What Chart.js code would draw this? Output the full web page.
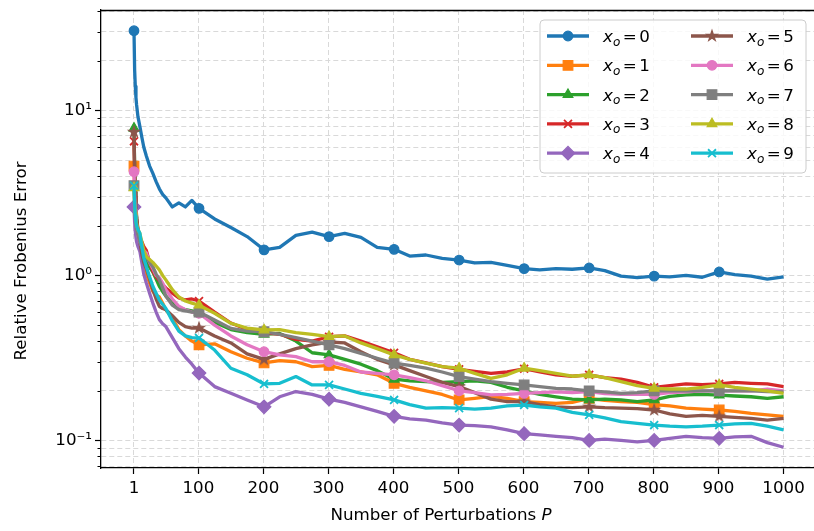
<!DOCTYPE html>
<html><head><meta charset="utf-8">
<script src="https://cdn.jsdelivr.net/npm/chart.js@4.4.1/dist/chart.umd.min.js"></script>
<style>html,body{margin:0;padding:0;background:#fff;}#wrap{width:814px;height:531px;}</style>
</head><body><div id="wrap"><canvas id="c" width="814" height="531"></canvas></div>
<script>
// ---------------- data ----------------
const perturbations = [1,2,3,4,5,7,10,13,16,20,25,30,35,40,45,50,60,70,80,90,
  101,125,150,175,201,225,250,275,301,325,350,375,401,425,450,475,501,525,550,575,
  601,625,650,675,701,725,750,775,801,825,850,875,901,925,950,975,1000];

const err_x0 = [30.4,17.5,14.0,12.0,10.8,9.2,8.0,6.9,6.0,5.3,4.6,4.15,3.7,3.35,3.1,2.95,2.6,2.75,2.6,2.85,
  2.55,2.2,1.95,1.72,1.43,1.48,1.75,1.83,1.72,1.80,1.70,1.48,1.44,1.31,1.33,1.27,1.24,1.19,1.20,1.15,
  1.10,1.08,1.10,1.09,1.11,1.07,0.99,0.97,0.99,0.98,1.0,0.975,1.05,1.01,0.99,0.95,0.98];
const err_x1 = [4.6,3.2,2.6,2.2,2.0,1.7,1.5,1.3,1.15,1.02,0.9,0.8,0.76,0.74,0.68,0.62,0.55,0.47,0.43,0.40,
  0.38,0.385,0.345,0.315,0.295,0.305,0.30,0.28,0.285,0.27,0.26,0.25,0.222,0.21,0.20,0.19,0.176,0.18,0.185,0.18,
  0.172,0.17,0.168,0.17,0.18,0.175,0.172,0.17,0.165,0.162,0.157,0.155,0.153,0.15,0.146,0.143,0.14];
const err_x2 = [7.8,4.5,3.2,2.6,2.2,1.85,1.6,1.42,1.3,1.2,1.12,1.05,0.95,0.86,0.8,0.75,0.68,0.64,0.62,0.61,
  0.60,0.52,0.47,0.45,0.44,0.445,0.40,0.34,0.33,0.31,0.29,0.265,0.235,0.23,0.227,0.225,0.227,0.23,0.225,0.21,
  0.20,0.19,0.184,0.178,0.176,0.178,0.176,0.172,0.176,0.185,0.189,0.19,0.188,0.186,0.184,0.18,0.184];
const err_x3 = [6.5,4.0,3.0,2.5,2.2,1.9,1.7,1.6,1.5,1.42,1.2,1.06,0.98,0.93,0.88,0.84,0.78,0.73,0.71,0.72,
  0.70,0.60,0.515,0.47,0.45,0.44,0.41,0.40,0.425,0.43,0.40,0.37,0.34,0.31,0.295,0.28,0.27,0.262,0.255,0.26,
  0.272,0.26,0.25,0.245,0.25,0.24,0.235,0.225,0.21,0.215,0.22,0.218,0.22,0.225,0.222,0.22,0.212];
const err_x4 = [2.6,2.1,1.85,1.7,1.6,1.5,1.4,1.2,1.02,0.9,0.78,0.68,0.6,0.54,0.51,0.49,0.42,0.36,0.32,0.29,
  0.256,0.212,0.193,0.176,0.16,0.184,0.198,0.19,0.178,0.17,0.16,0.15,0.14,0.135,0.133,0.128,0.124,0.123,0.121,0.116,
  0.11,0.108,0.106,0.104,0.10,0.102,0.10,0.098,0.10,0.103,0.106,0.104,0.103,0.105,0.106,0.097,0.091];
const err_x5 = [7.4,4.5,3.2,2.6,2.3,1.9,1.6,1.35,1.2,1.1,0.95,0.82,0.72,0.65,0.63,0.62,0.57,0.52,0.49,0.48,
  0.48,0.43,0.39,0.335,0.31,0.335,0.36,0.38,0.395,0.39,0.345,0.31,0.287,0.265,0.244,0.225,0.212,0.195,0.178,0.172,
  0.172,0.165,0.16,0.158,0.16,0.158,0.157,0.156,0.153,0.145,0.14,0.142,0.14,0.138,0.136,0.133,0.136];
const err_x6 = [4.25,3.0,2.5,2.2,2.0,1.75,1.6,1.5,1.42,1.37,1.2,1.1,1.0,0.97,0.9,0.82,0.72,0.65,0.62,0.6,
  0.59,0.50,0.43,0.38,0.345,0.33,0.322,0.30,0.30,0.285,0.26,0.255,0.25,0.24,0.23,0.215,0.20,0.195,0.189,0.19,
  0.193,0.195,0.197,0.195,0.198,0.192,0.19,0.19,0.19,0.195,0.197,0.2,0.2,0.2,0.2,0.205,0.2];
const err_x7 = [3.5,2.6,2.2,2.0,1.9,1.75,1.6,1.48,1.38,1.3,1.2,1.13,1.02,0.94,0.84,0.75,0.66,0.62,0.61,0.6,
  0.6,0.537,0.478,0.46,0.456,0.44,0.42,0.40,0.38,0.36,0.337,0.315,0.294,0.285,0.274,0.26,0.244,0.235,0.227,0.222,
  0.217,0.212,0.207,0.205,0.20,0.197,0.193,0.195,0.20,0.2,0.2,0.2,0.2,0.2,0.2,0.198,0.197];
const err_x8 = [3.4,2.7,2.4,2.2,2.05,1.9,1.8,1.6,1.42,1.3,1.25,1.2,1.14,1.08,1.0,0.94,0.82,0.74,0.7,0.68,
  0.66,0.59,0.513,0.48,0.467,0.47,0.45,0.44,0.426,0.43,0.39,0.36,0.33,0.31,0.294,0.28,0.274,0.255,0.238,0.25,
  0.274,0.265,0.255,0.245,0.25,0.24,0.227,0.215,0.207,0.205,0.205,0.21,0.217,0.21,0.205,0.2,0.193];
const err_x9 = [3.5,2.7,2.3,2.1,2.0,1.9,1.8,1.5,1.28,1.13,0.98,0.86,0.78,0.71,0.67,0.63,0.53,0.46,0.43,0.42,
  0.418,0.353,0.274,0.25,0.22,0.222,0.244,0.217,0.217,0.205,0.193,0.185,0.176,0.165,0.157,0.158,0.157,0.155,0.157,0.162,
  0.164,0.16,0.157,0.148,0.143,0.137,0.13,0.127,0.124,0.122,0.121,0.122,0.124,0.126,0.127,0.122,0.116];

const seriesNames = ['0','1','2','3','4','5','6','7','8','9'];
const markerAt = [1,101,201,301,401,501,601,701,801,901];
const xTickValues = [1,100,200,300,400,500,600,700,800,900,1000];
const yTickValues = [0.07,0.08,0.09,0.1,0.2,0.3,0.4,0.5,0.6,0.7,0.8,0.9,1,2,3,4,5,6,7,8,9,10,20,30,40];
const yTickText = {'-1':'10\u207B\u00B9','0':'10\u2070','1':'10\u00B9'};
const xTitle = 'Number of Perturbations ';
const xTitleVar = 'P';
const yTitle = 'Relative Frobenius Error';

// ---------------- styling ----------------
const FONT = 'DejaVu Sans';
const FS = 16.7;      // tick labels / legend
const FT = 16.7;      // axis titles
const colors = ['#1f77b4','#ff7f0e','#2ca02c','#d62728','#9467bd','#8c564b','#e377c2','#7f7f7f','#bcbd22','#17becf'];

function makeStar(color, R){
  const s = Math.ceil(R*2+4);
  const c = document.createElement('canvas'); c.width = s; c.height = s;
  const g = c.getContext('2d');
  g.fillStyle = color; g.strokeStyle = color; g.lineWidth = 1.2; g.lineJoin='miter';
  g.beginPath();
  for (let k=0;k<10;k++){ const r = k%2 ? R*0.382 : R; const a = -Math.PI/2 + k*Math.PI/5;
    g.lineTo(s/2 + r*Math.cos(a), s/2 + r*Math.sin(a)); }
  g.closePath(); g.fill(); g.stroke();
  return c;
}
const star = makeStar(colors[5], 5.6);
const styles = ['circle','rect','triangle','crossRot','rectRot',star,'circle','rect','triangle','crossRot'];
const radii  = [4.8,6.8,5.6,5.6,6.8,5,4.8,6.8,5.6,5.6];

const allSeries = [err_x0,err_x1,err_x2,err_x3,err_x4,err_x5,err_x6,err_x7,err_x8,err_x9];

const datasets = allSeries.map((vals,i)=>({
  label: 'x_o=' + seriesNames[i],
  data: perturbations.map((x,j)=>({x:x, y:vals[j]})),
  borderColor: colors[i], backgroundColor: colors[i],
  borderWidth: 3.3, borderJoinStyle:'round', borderCapStyle:'butt',
  pointStyle: styles[i],
  pointRadius: perturbations.map(x => markerAt.includes(x) ? radii[i] : 0),
  pointHoverRadius: 0,
  pointBorderWidth: (i===3||i===9) ? 1.8 : 1.2,
  pointBackgroundColor: colors[i], pointBorderColor: colors[i],
  tension: 0, order: 9 - i
}));

const isPow10 = v => Math.abs(Math.log10(v) - Math.round(Math.log10(v))) < 1e-9;

const extras = {
  id: 'extras',
  afterDraw(chart){
    const ctx = chart.ctx, a = chart.chartArea, ys = chart.scales.y;
    ctx.save();
    // minor ticks on y
    ctx.strokeStyle = '#000'; ctx.lineWidth = 1;
    yTickValues.forEach(v => { if (isPow10(v)) return; const p = Math.round(ys.getPixelForValue(v))+0.5;
      ctx.beginPath(); ctx.moveTo(a.left-3.5, p); ctx.lineTo(a.left, p); ctx.stroke(); });
    // top spine
    ctx.lineWidth = 1.3; ctx.beginPath(); ctx.moveTo(a.left, a.top+0.5); ctx.lineTo(a.right, a.top+0.5); ctx.stroke();
    // axis titles
    ctx.fillStyle = '#000'; ctx.textBaseline = 'middle';
    ctx.font = FT + 'px "' + FONT + '"';
    const w1 = ctx.measureText(xTitle).width;
    ctx.font = 'italic ' + FT + 'px "' + FONT + '"';
    const w2 = ctx.measureText(xTitleVar).width;
    const cx = 441, x0 = cx - (w1+w2)/2;
    ctx.textAlign = 'left';
    ctx.font = FT + 'px "' + FONT + '"'; ctx.fillText(xTitle, x0, 516);
    ctx.font = 'italic ' + FT + 'px "' + FONT + '"'; ctx.fillText(xTitleVar, x0 + w1, 516);
    ctx.save(); ctx.translate(22, 261); ctx.rotate(-Math.PI/2);
    ctx.textAlign = 'center'; ctx.font = FT + 'px "' + FONT + '"'; ctx.fillText(yTitle, 0, 0);
    ctx.restore();
    // legend
    const L = 540, T = 20, W = 266, H = 153, r = 4;
    ctx.beginPath();
    ctx.moveTo(L+r,T); ctx.lineTo(L+W-r,T); ctx.quadraticCurveTo(L+W,T,L+W,T+r);
    ctx.lineTo(L+W,T+H-r); ctx.quadraticCurveTo(L+W,T+H,L+W-r,T+H);
    ctx.lineTo(L+r,T+H); ctx.quadraticCurveTo(L,T+H,L,T+H-r);
    ctx.lineTo(L,T+r); ctx.quadraticCurveTo(L,T,L+r,T); ctx.closePath();
    ctx.fillStyle = 'rgba(255,255,255,0.8)'; ctx.fill();
    ctx.strokeStyle = '#cccccc'; ctx.lineWidth = 1; ctx.stroke();
    for (let i=0;i<10;i++){
      const col = i<5?0:1, row = i%5;
      const y = 36 + row*29.3;
      const lx0 = col? 691 : 547, lx1 = lx0 + 42, mx = (lx0+lx1)/2;
      ctx.strokeStyle = colors[i]; ctx.lineWidth = 3.3; ctx.lineCap='butt';
      ctx.beginPath(); ctx.moveTo(lx0,y); ctx.lineTo(lx1,y); ctx.stroke();
      if (typeof styles[i] === 'object') {
        ctx.drawImage(styles[i], mx - styles[i].width/2, y - styles[i].height/2);
      } else {
        ctx.fillStyle = colors[i]; ctx.strokeStyle = colors[i];
        ctx.lineWidth = (i===3||i===9)?1.8:1.2;
        Chart.helpers.drawPoint(ctx, {pointStyle: styles[i], radius: radii[i], borderWidth: ctx.lineWidth, rotation: 0}, mx, y);
      }
      // label  x_o = n
      let tx = col? 747 : 603;
      ctx.fillStyle = '#000'; ctx.textAlign='left'; ctx.textBaseline='alphabetic';
      const base = y + 6;
      ctx.font = 'italic ' + FS + 'px "' + FONT + '"'; ctx.fillText('x', tx, base); tx += ctx.measureText('x').width;
      ctx.font = 'italic ' + Math.round(FS*0.7) + 'px "' + FONT + '"'; ctx.fillText('o', tx, base + 3.5); tx += ctx.measureText('o').width + 2.5;
      ctx.font = FS + 'px "' + FONT + '"'; ctx.fillText('=', tx, base); tx += ctx.measureText('=').width + 2.5;
      ctx.fillText(seriesNames[i], tx, base);
    }
    ctx.restore();
  }
};

new Chart(document.getElementById('c'), {
  type: 'line',
  data: { datasets },
  options: {
    responsive: false, animation: false, devicePixelRatio: 1,
    layout: { autoPadding: false, padding: { top: 10, right: 0, left: 0, bottom: 0 } },
    plugins: { legend: { display: false }, tooltip: { enabled: false } },
    scales: {
      x: {
        type: 'linear', min: -49.75, max: 1046.8,
        afterBuildTicks: s => { s.ticks = xTickValues.map(v => ({ value: v })); },
        afterFit: s => { s.height = 63; s.paddingLeft = 0; s.paddingRight = 0; },
        ticks: { autoSkip: false, maxRotation: 0, color: '#000', padding: 5,
          font: { family: FONT, size: FS }, callback: v => String(v) },
        grid: { color: '#d9d9d9', lineWidth: 1, tickColor: '#000', tickLength: 6, tickWidth: 1.2 },
        border: { display: true, color: '#000', width: 1.3, dash: [5, 3] }
      },
      y: {
        type: 'logarithmic', min: 0.0681, max: 40.6,
        afterBuildTicks: s => { s.ticks = yTickValues.map(v => ({ value: v, major: isPow10(v) })); },
        afterFit: s => { s.width = 101; s.paddingTop = 0; s.paddingBottom = 0; },
        ticks: { autoSkip: false, color: '#000', padding: 3, font: { family: FONT, size: FS },
          callback: (v) => isPow10(v) ? yTickText[String(Math.round(Math.log10(v)))] : '' },
        grid: { color: '#d9d9d9', lineWidth: 1, tickLength: 6, tickWidth: 1.2,
          tickColor: c => (c.tick && isPow10(c.tick.value)) ? '#000' : 'rgba(0,0,0,0)' },
        border: { display: true, color: '#000', width: 1.3, dash: [5, 3] }
      }
    }
  },
  plugins: [extras]
});
</script></body></html>
